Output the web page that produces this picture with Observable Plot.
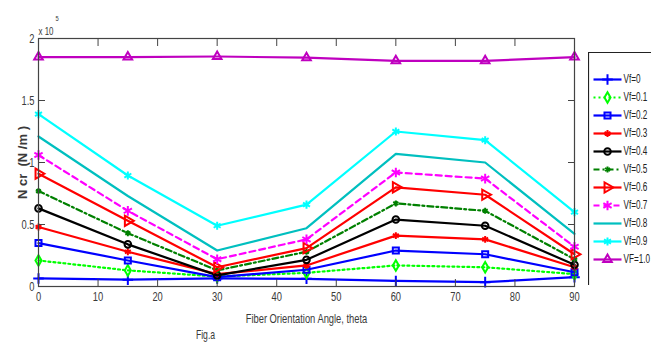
<!DOCTYPE html>
<html><head><meta charset="utf-8">
<script src="https://cdn.jsdelivr.net/npm/d3@7"></script>
<script src="https://cdn.jsdelivr.net/npm/@observablehq/plot@0.6"></script>
<style>
html,body{margin:0;padding:0;overflow:hidden;background:#fff;width:651px;height:345px}
#wrap{position:relative;width:651px;height:345px;overflow:hidden}
#chart{position:absolute;left:0;top:0}
#legend{position:absolute;left:588px;top:52px;width:63px;height:233px}
#legend svg, #chart svg{max-width:none !important}
svg text{font-family:"Liberation Sans",Arial,sans-serif}
#chart g[aria-label="y-axis label"] text{font-weight:bold}
</style></head><body><div id="wrap"><div id="chart"></div><div id="legend"></div></div>
<script>
// Fiber orientation angle (degrees)
const theta = [0, 15, 30, 45, 60, 75, 90];
// Ncr values in units of 10^5 N/m
const vf00 = [0.065, 0.055, 0.065, 0.062, 0.045, 0.035, 0.075];
const vf01 = [0.21, 0.13, 0.08, 0.11, 0.17, 0.155, 0.10];
const vf02 = [0.35, 0.21, 0.075, 0.135, 0.29, 0.26, 0.115];
const vf03 = [0.48, 0.28, 0.10, 0.17, 0.41, 0.38, 0.155];
const vf04 = [0.63, 0.34, 0.09, 0.215, 0.54, 0.49, 0.175];
const vf05 = [0.77, 0.43, 0.13, 0.28, 0.67, 0.61, 0.22];
const vf06 = [0.91, 0.53, 0.155, 0.31, 0.80, 0.74, 0.26];
const vf07 = [1.06, 0.61, 0.22, 0.38, 0.92, 0.87, 0.32];
const vf08 = [1.21, 0.73, 0.29, 0.47, 1.07, 1.00, 0.425];
const vf09 = [1.39, 0.895, 0.49, 0.66, 1.25, 1.18, 0.60];
const vf10 = [1.85, 1.85, 1.855, 1.845, 1.82, 1.82, 1.85];
const seriesNames = ["Vf=0","Vf=0.1","Vf=0.2","Vf=0.3","Vf=0.4","Vf=0.5","Vf=0.6","Vf=0.7","Vf=0.8","Vf=0.9","VF=1.0"];
const seriesValues = [vf00, vf01, vf02, vf03, vf04, vf05, vf06, vf07, vf08, vf09, vf10];
const xTicks = [0, 10, 20, 30, 40, 50, 60, 70, 80, 90];
const yTicks = [0, 0.5, 1, 1.5, 2];
const yTickLabels = ["0", "0.5", "1", "1.5", "2"];

// styles
const styles = [
  {color:"#0000ff", symbol:"plus", r:3.5},
  {color:"#00ff00", symbol:"diamond", r:3.2, dash:"2,3"},
  {color:"#0000ff", symbol:"square", r:3.4},
  {color:"#ff0000", symbol:"asterisk", r:3.2},
  {color:"#000000", symbol:"circle", r:3.3},
  {color:"#008000", symbol:"asterisk", r:2.8, dash:"6,3,2,3"},
  {color:"#ff0000", symbol:"triangle", r:3.8, rotate:90},
  {color:"#ff00ff", symbol:"asterisk", r:4.5, dash:"6,4"},
  {color:"#00bfbf", symbol:null},
  {color:"#00ffff", symbol:"asterisk", r:3.8},
  {color:"#bf00bf", symbol:"triangle", r:3.2}
];

const rows = [];
seriesValues.forEach((vals, i) => vals.forEach((v, j) => rows.push({series: seriesNames[i], theta: theta[j], ncr: v})));

const marks = [];
seriesNames.forEach((name, i) => {
  const s = styles[i];
  const d = rows.filter(r => r.series === name);
  marks.push(Plot.line(d, {x:"theta", y:"ncr", stroke:s.color, strokeWidth:2.2, strokeDasharray:s.dash}));
  if (s.symbol) marks.push(Plot.dot(d, {x:"theta", y:"ncr", symbol:s.symbol, r:s.r, stroke:s.color, strokeWidth:2, fill:"none", rotate:s.rotate || 0}));
});

const axisColor = "#3a3a3a";
const chart = Plot.plot({
  width: 651, height: 345,
  marginLeft: 38, marginRight: 77, marginTop: 38, marginBottom: 59,
  x: {domain:[0, 90]},
  y: {domain:[0, 2]},
  style: {background:"#fff", color: axisColor},
  marks: [
    ...marks,
    Plot.frame({stroke:"#444", strokeWidth:1.2}),
    Plot.axisX({anchor:"bottom", ticks:xTicks, tickSize:0, tickPadding:5, fontSize:13, fill:axisColor,
      label:"Fiber Orientation Angle, theta", labelAnchor:"center", labelOffset:36, labelArrow:"none"}),
    Plot.axisX({anchor:"bottom", ticks:xTicks, tickSize:-7, tickFormat:() => "", label:null, stroke:"#444"}),
    Plot.axisX({anchor:"top", ticks:xTicks, tickSize:-7, tickFormat:() => "", label:null, stroke:"#444"}),
    Plot.axisY({anchor:"left", ticks:yTicks, tickSize:0, tickPadding:4, fontSize:13, fill:axisColor,
      tickFormat:(d) => yTickLabels[yTicks.indexOf(d)],
      label:"N cr  (N /m )", labelAnchor:"center", labelOffset:21, labelArrow:"none"}),
    Plot.axisY({anchor:"left", ticks:yTicks, tickSize:-7, tickFormat:() => "", label:null, stroke:"#444"}),
    Plot.axisY({anchor:"right", ticks:yTicks, tickSize:-7, tickFormat:() => "", label:null, stroke:"#444"}),
    Plot.text(["x 10"], {frameAnchor:"top-left", dx:0, dy:-11, textAnchor:"start", fontSize:11, fill:axisColor}),
    Plot.text(["5"], {frameAnchor:"top-left", dx:17, dy:-23, textAnchor:"start", fontSize:8, fill:axisColor}),
    Plot.text(["Fig.a"], {frameAnchor:"bottom", dx:-101, dy:52, fontSize:12, fill:axisColor})
  ]
});
document.getElementById("chart").appendChild(chart);

// legend (box continues past the right edge of the picture, as in the original)
const legendRows = seriesNames.map((name, i) => ({name, ...styles[i]}));
const legendMarks = [
  Plot.frame({anchor:"left", stroke:"#222", strokeWidth:1.2}),
  Plot.frame({anchor:"top", stroke:"#222", strokeWidth:1.2}),
  Plot.frame({anchor:"bottom", stroke:"#222", strokeWidth:1.2})
];
legendRows.forEach(row => {
  legendMarks.push(Plot.link([row], {x1:5, x2:33, y1:"name", y2:"name", stroke:row.color, strokeWidth:2.2, strokeDasharray:row.dash}));
  if (row.symbol) legendMarks.push(Plot.dot([row], {x:19, y:"name", symbol:row.symbol, r:row.r, stroke:row.color, strokeWidth:2, fill:"none", rotate:row.rotate || 0}));
});
legendMarks.push(Plot.text(legendRows, {x:35, y:"name", text:"name", textAnchor:"start", fontSize:12, fill:"#222"}));
const legend = Plot.plot({
  width: 63, height: 233, margin: 0,
  x: {domain:[0, 63], range:[0, 63]},
  y: {type:"point", domain:seriesNames, range:[15, 218]},
  axis: null,
  style: {background:"#fff"},
  marks: legendMarks
});
document.getElementById("legend").appendChild(legend);

// condense text horizontally (about its anchor point) to mimic the narrow font of the original
function condense(sel, k) {
  sel.each(function() {
    const ax = +(this.getAttribute("x") || 0);
    const t = this.getAttribute("transform") || "";
    this.setAttribute("transform", `${t} translate(${ax},0) scale(${k},1) translate(${-ax},0)`.trim());
  });
}
condense(d3.select(chart).selectAll("g:not([aria-label='y-axis label']) > text"), 0.72);
condense(d3.select(legend).selectAll("text"), 0.68);
</script></body></html>
